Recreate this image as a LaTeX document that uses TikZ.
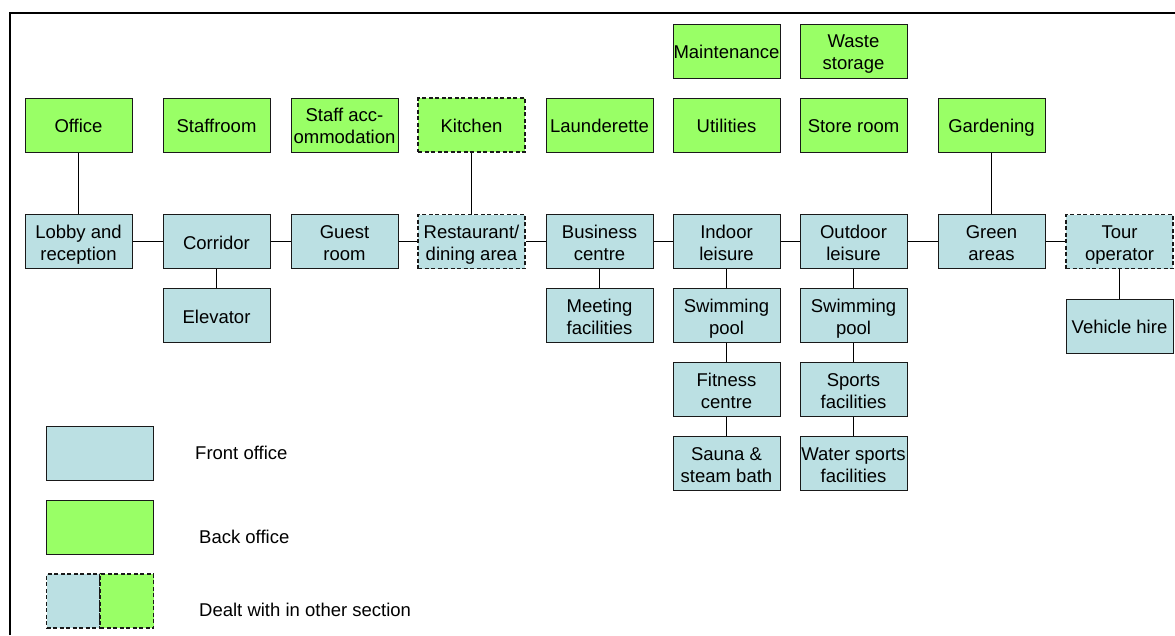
\documentclass[tikz,border=0pt]{standalone}
\usepackage{fontspec}
\setmainfont{Liberation Sans}
\definecolor{front}{HTML}{BBE0E3}
\definecolor{back}{HTML}{99FF66}
% box labels: one or two centred lines on a fixed 22pt baseline grid,
% with fixed height (19.7pt) and depth (4.5pt) so every label sits at the same level
\newcommand{\boxone}[1]{\hbox to 0pt{\hss\rule[-4.5pt]{0pt}{24.2pt}#1\hss}}
\newcommand{\boxtwo}[2]{\vbox{\baselineskip=22pt\lineskiplimit=-100pt\lineskip=0pt
  \hbox to 0pt{\hss\rule{0pt}{19.7pt}#1\hss}%
  \hbox to 0pt{\hss\rule[-4.5pt]{0pt}{4.5pt}#2\hss}}}
\begin{document}
\begin{tikzpicture}[x=1pt,y=-1pt,
  box/.style={draw=black!90, line width=1pt, minimum width=107pt, minimum height=54pt,
    inner sep=0pt, font=\fontsize{18.5}{22}\selectfont},
  fo/.style={box, fill=front},
  bo/.style={box, fill=back},
  other/.style={line width=1.3pt, dash pattern=on 4pt off 2.5pt},
  link/.style={line width=1pt},
  label/.style={anchor=west, inner sep=0pt, font=\fontsize{18.5}{22}\selectfont}]
\useasboundingbox (0,0) rectangle (1175,635);
% frame
\draw[line width=2pt] (10,635) -- (10,13) -- (1175,13);

% back office, top rows
\node[bo] (maint) at (726.5,51) {\boxone{Maintenance}};
\node[bo] (waste) at (853.5,51) {\boxtwo{Waste}{storage}};
\node[bo] (office) at (78.5,125) {\boxone{Office}};
\node[bo] (staff) at (216.5,125) {\boxone{Staffroom}};
\node[bo] (accom) at (344.5,125) {\boxtwo{Staff acc-}{ommodation}};
\node[bo,other] (kitchen) at (471.5,125) {\boxone{Kitchen}};
\node[bo] (laund) at (599.5,125) {\boxone{Launderette}};
\node[bo] (util) at (726.5,125) {\boxone{Utilities}};
\node[bo] (store) at (853.5,125) {\boxone{Store room}};
\node[bo] (garden) at (991.5,125) {\boxone{Gardening}};

% front office, main row
\node[fo] (lobby) at (78.5,241.5) {\boxtwo{Lobby and}{reception}};
\node[fo] (corr) at (216.5,241.5) {\boxone{Corridor}};
\node[fo] (guest) at (344.5,241.5) {\boxtwo{Guest}{room}};
\node[fo,other] (rest) at (471.5,241.5) {\boxtwo{Restaurant/}{dining area}};
\node[fo] (bus) at (599.5,241.5) {\boxtwo{Business}{centre}};
\node[fo] (indoor) at (726.5,241.5) {\boxtwo{Indoor}{leisure}};
\node[fo] (outdoor) at (853.5,241.5) {\boxtwo{Outdoor}{leisure}};
\node[fo] (green) at (991.5,241.5) {\boxtwo{Green}{areas}};
\node[fo,other] (tour) at (1119.5,241.5) {\boxtwo{Tour}{operator}};

% front office, sub-units
\node[fo] (elev) at (216.5,315.5) {\boxone{Elevator}};
\node[fo] (meet) at (599.5,315.5) {\boxtwo{Meeting}{facilities}};
\node[fo] (swimA) at (726.5,315.5) {\boxtwo{Swimming}{pool}};
\node[fo] (fit) at (726.5,389.5) {\boxtwo{Fitness}{centre}};
\node[fo] (sauna) at (726.5,463.5) {\boxtwo{Sauna \&}{steam bath}};
\node[fo] (swimB) at (853.5,315.5) {\boxtwo{Swimming}{pool}};
\node[fo] (sport) at (853.5,389.5) {\boxtwo{Sports}{facilities}};
\node[fo] (water) at (853.5,463.5) {\boxtwo{Water sports}{facilities}};
\node[fo] (veh) at (1119.5,326) {\boxone{Vehicle hire}};

% connectors
\draw[link] (lobby) -- (corr);
\draw[link] (corr) -- (guest);
\draw[link] (guest) -- (rest);
\draw[link] (rest) -- (bus);
\draw[link] (bus) -- (indoor);
\draw[link] (indoor) -- (outdoor);
\draw[link] (outdoor) -- (green);
\draw[link] (green) -- (tour);
\draw[link] (office) -- (lobby);
\draw[link] (kitchen) -- (rest);
\draw[link] (garden) -- (green);
\draw[link] (corr) -- (elev);
\draw[link] (bus) -- (meet);
\draw[link] (indoor) -- (swimA);
\draw[link] (swimA) -- (fit);
\draw[link] (fit) -- (sauna);
\draw[link] (outdoor) -- (swimB);
\draw[link] (swimB) -- (sport);
\draw[link] (sport) -- (water);
\draw[link] (tour) -- (veh);

% legend
\node[fo] (keyfront) at (99.5,453.5) {};
\node[label] (txtfront) at (195,453) {Front office};
\node[bo] (keyback) at (99.5,527) {};
\node[label] (txtback) at (199,537) {Back office};
\node[fo,other,minimum width=53.5pt] (keyotherA) at (73.25,601) {};
\node[bo,other,minimum width=53.5pt] (keyotherB) at (126.75,601) {};
\node[label] (txtother) at (199,610) {Dealt with in other section};
\end{tikzpicture}
\end{document}
